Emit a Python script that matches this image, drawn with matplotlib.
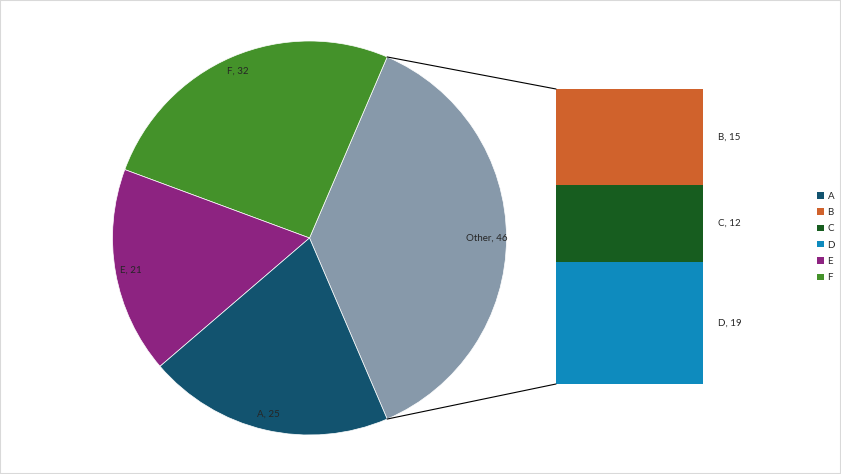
import matplotlib
matplotlib.use('Agg')
import matplotlib.pyplot as plt
from matplotlib.patches import ConnectionPatch, Patch, Rectangle
import numpy as np

plt.rcParams['font.family'] = ['Lato', 'DejaVu Sans']

# pie slices (counter-clockwise from the split-off slice)
pieLabels = ['Other', 'F', 'E', 'A']
pieValues = [46, 32, 21, 25]
pieColours = ['#8799AA', '#44922A', '#8D2381', '#12536F']

# bar of pie, bottom to top
barLabels = ['D', 'C', 'B']
barValues = [19, 12, 15]
barColours = ['#0E8BBE', '#175D1F', '#D0622C']

legendLabels = ['A', 'B', 'C', 'D', 'E', 'F']
legendColours = ['#12536F', '#D0622C', '#175D1F', '#0E8BBE', '#8D2381', '#44922A']

textColour = '#262626'

W, H = 841, 474
fig = plt.figure(figsize=(W / 100, H / 100), dpi=100)

# pie axes: centre (309.5, 238) px, radius 197 px
cx, cy, r = 309.5, 238, 197
axPie = fig.add_axes([(cx - r) / W, (H - cy - r) / H, 2 * r / W, 2 * r / H])
otherAngle = 360 * pieValues[0] / sum(pieValues)
startAngle = -otherAngle / 2
wedges, _ = axPie.pie(pieValues, colors=pieColours, startangle=startAngle,
                      counterclock=True, radius=1,
                      wedgeprops=dict(edgecolor='white', linewidth=0.5))
axPie.set_xlim(-1, 1)
axPie.set_ylim(-1, 1)
axPie.set_aspect('equal')
axPie.axis('off')

for w, lab, val in zip(wedges, pieLabels, pieValues):
    mid = np.deg2rad((w.theta1 + w.theta2) / 2)
    rr = 0.9 if lab == 'Other' else 0.92
    axPie.text(rr * np.cos(mid), rr * np.sin(mid), f'{lab}, {val}',
               ha='center', va='center', fontsize=7, color=textColour)

# bar axes: x 556..703, y 89..384 px
bx0, bx1, by0, by1 = 556, 703, 89, 384
axBar = fig.add_axes([bx0 / W, (H - by1) / H, (bx1 - bx0) / W, (by1 - by0) / H])
bottom = 0
for lab, val, col in zip(barLabels, barValues, barColours):
    axBar.bar(0, val, width=1, bottom=bottom, align='edge', color=col)
    axBar.text(1.1, bottom + val / 2, f'{lab}, {val}', ha='left', va='center',
               fontsize=7, color=textColour, clip_on=False)
    bottom += val
axBar.set_xlim(0, 1)
axBar.set_ylim(0, sum(barValues))
axBar.axis('off')

# connector lines
for ang, yb in [(startAngle + otherAngle, sum(barValues)), (startAngle, 0)]:
    a = np.deg2rad(ang)
    con = ConnectionPatch(xyA=(np.cos(a), np.sin(a)), coordsA=axPie.transData,
                          xyB=(0, yb), coordsB=axBar.transData,
                          color='black', linewidth=0.8)
    fig.add_artist(con)

handles = [Patch(facecolor=c, edgecolor='none') for c in legendColours]
fig.legend(handles, legendLabels, loc='center left', bbox_to_anchor=(0.966, 0.5),
           frameon=False, fontsize=7, handlelength=0.65, handleheight=0.65,
           handletextpad=0.4, labelspacing=0.75, borderpad=0, labelcolor=textColour)

# chart border
fig.add_artist(Rectangle((0, 0), 1, 1, transform=fig.transFigure, fill=False,
                         edgecolor='#D9D9D9', linewidth=1.5))

fig.savefig('out.png', dpi=100)
